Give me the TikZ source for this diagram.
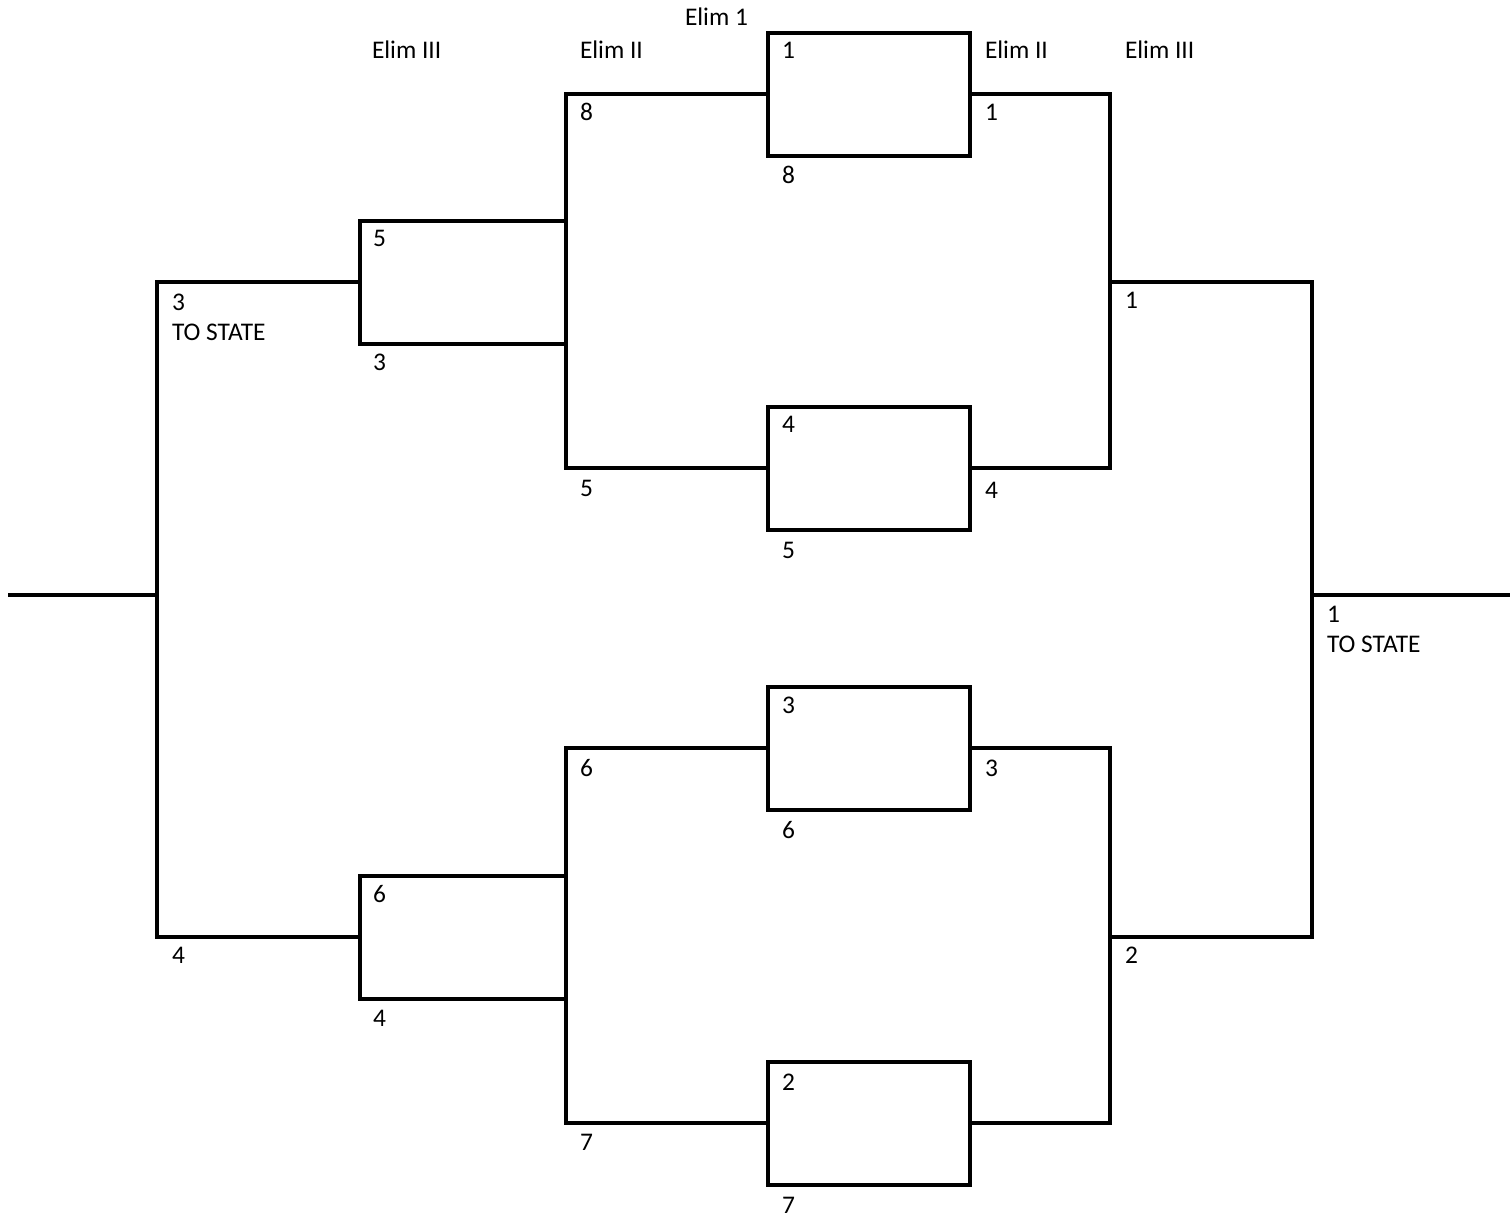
\documentclass[tikz,border=0pt]{standalone}
\usepackage{fontspec}
\setmainfont{Carlito}

\begin{document}
\begin{tikzpicture}[x=1pt,y=-1pt,line width=4pt,font=\fontsize{25.4}{30}\selectfont,
 game/.style={draw,minimum width=202pt,minimum height=123pt,inner sep=0pt,outer sep=0pt},
 seed/.style={anchor=west,inner sep=0pt},
 tag/.style={anchor=north west,align=left,inner sep=0pt}]
 \useasboundingbox (0,0) rectangle (1510,1218);
 \node[game] (ea) at (869,94) {};
 \node[game] (eb) at (869,468) {};
 \node[game] (ec) at (869,748) {};
 \node[game] (ed) at (869,1123) {};
 \node[game,minimum width=206pt] (ta) at (463,282) {};
 \node[game,minimum width=206pt] (tb) at (463,937) {};
 \coordinate (ml) at (157,595);
 \coordinate (mr) at (1312,595);
 \coordinate (ua) at (1110,282);
 \coordinate (ub) at (1110,937);
 \coordinate (endl) at (8,595);
 \coordinate (endr) at (1510,595);
 \draw (ea.west) -| (ta.north east);
 \draw (eb.west) -| (ta.south east);
 \draw (ec.west) -| (tb.north east);
 \draw (ed.west) -| (tb.south east);
 \draw (ea.east) -| (ua) |- (eb.east);
 \draw (ec.east) -| (ub) |- (ed.east);
 \draw (ua) -| (mr) |- (ub);
 \draw (ta.west) -| (ml) |- (tb.west);
 \draw (endl) -- (ml);
 \draw (mr) -- (endr);
 \node[seed] (h1) at (370,50) {Elim III};
 \node[seed] (h2) at (578,50) {Elim II};
 \node[seed] (h3) at (683,17) {Elim 1};
 \node[seed] (h4) at (983,50) {Elim II};
 \node[seed] (h5) at (1123,50) {Elim III};
 \foreach \x/\y/\t [count=\k] in {578/112/8,780/50/1,780/175/8,983/112/1,
   371/238/5,371/362/3,780/424/4,578/488/5,780/550/5,983/490/4,1123/300/1,
   780/705/3,578/768/6,983/768/3,780/830/6,371/894/6,170/955/4,371/1018/4,
   1123/955/2,780/1082/2,578/1142/7,780/1205/7}
  \node[seed] (s\k) at (\x,\y) {\t};
 \node[tag] (wl) at (170,292) {3\\TO STATE};
 \node[tag] (wr) at (1325,604) {1\\TO STATE};
\end{tikzpicture}
\end{document}
